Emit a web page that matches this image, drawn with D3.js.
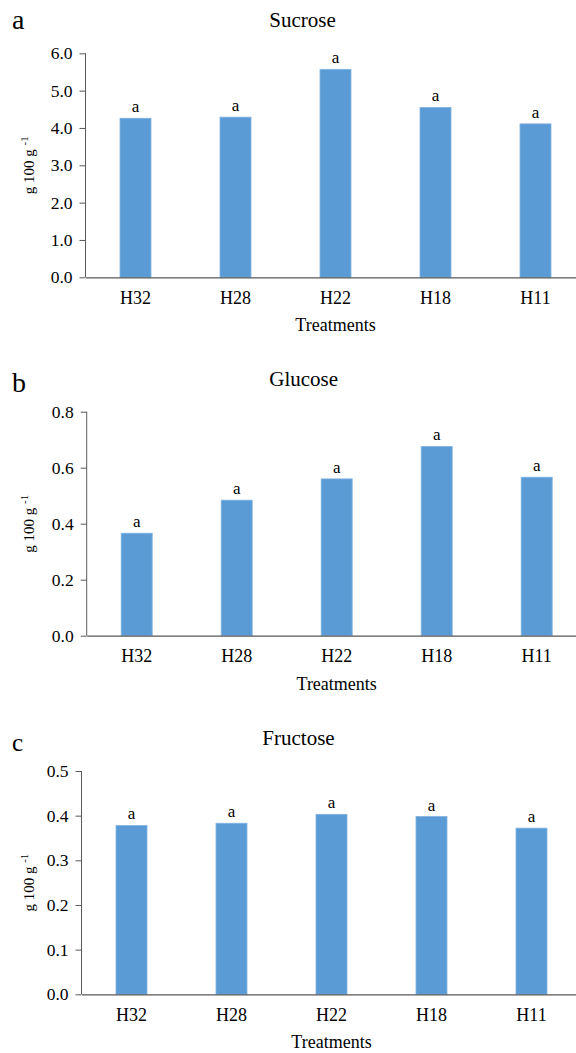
<!DOCTYPE html>
<html>
<head>
<meta charset="utf-8">
<script src="https://cdn.jsdelivr.net/npm/d3@7"></script>
<style>
  body { margin: 0; background: #fff; }
  svg text { font-family: "Liberation Serif", "Times New Roman", serif; fill: #000; }
</style>
</head>
<body>
<div id="chart"></div>
<script>
// data
const treatments = ["H32", "H28", "H22", "H18", "H11"];
const sucrose = [4.26, 4.29, 5.57, 4.55, 4.11];
const glucose = [0.366, 0.484, 0.560, 0.676, 0.566];
const fructose = [0.378, 0.383, 0.403, 0.398, 0.372];
const sigLetters = ["a", "a", "a", "a", "a"];
const sucroseTicks = [0, 1, 2, 3, 4, 5, 6];
const glucoseTicks = [0, 0.2, 0.4, 0.6, 0.8];
const fructoseTicks = [0, 0.1, 0.2, 0.3, 0.4, 0.5];

const canvWidth = 576, canvHeight = 1053;
const barColor = "#5b9bd5";
const axisColor = "#595959";
const serif = "Liberation Serif, Times New Roman, serif";

const svg = d3.select("#chart")
    .append("svg")
    .attr("width", canvWidth)
    .attr("height", canvHeight);

const panels = [
    {tag: "a", tagSize: 28, tagY: 29, title: "Sucrose", titleY: 27, values: sucrose, ticks: sucroseTicks,
        x0: 85.5, top: 53.3, bottom: 277.3},
    {tag: "b", tagSize: 28, tagY: 392, title: "Glucose", titleY: 386, values: glucose, ticks: glucoseTicks,
        x0: 86.7, top: 411.7, bottom: 635.7},
    {tag: "c", tagSize: 25, tagY: 751, title: "Fructose", titleY: 745, values: fructose, ticks: fructoseTicks,
        x0: 81.5, top: 771, bottom: 994.3}
];

panels.forEach(function (p) {
    const g = svg.append("g");

    const xScale = d3.scaleBand()
        .domain(treatments)
        .range([p.x0, p.x0 + 500])
        .paddingInner(0.69)
        .paddingOuter(0.345);

    const yScale = d3.scaleLinear()
        .domain(d3.extent(p.ticks))
        .range([p.bottom, p.top]);

    // y axis
    const yAxis = g.append("g")
        .attr("transform", `translate(${p.x0},0)`)
        .call(d3.axisLeft(yScale).tickValues(p.ticks).tickFormat(d3.format(".1f")).tickSize(6).tickPadding(7))
        .attr("font-family", serif)
        .attr("font-size", 17.5);
    yAxis.select(".domain").attr("stroke", axisColor).attr("d", `M0,${p.top}V${p.bottom}`);
    yAxis.selectAll(".tick line").attr("stroke", axisColor);
    yAxis.selectAll(".tick text").attr("fill", "#000");

    // bars
    g.selectAll("rect.bar")
        .data(p.values)
        .enter()
        .append("rect")
        .attr("class", "bar")
        .attr("x", (d, i) => xScale(treatments[i]))
        .attr("y", d => yScale(d))
        .attr("width", xScale.bandwidth())
        .attr("height", d => yScale(0) - yScale(d))
        .attr("fill", barColor)
        .attr("stroke", "#7fb2e0")
        .attr("stroke-width", 0.8);

    // significance letters
    g.selectAll("text.sig")
        .data(p.values)
        .enter()
        .append("text")
        .attr("class", "sig")
        .attr("x", (d, i) => xScale(treatments[i]) + xScale.bandwidth() / 2)
        .attr("y", d => yScale(d) - 6)
        .attr("text-anchor", "middle")
        .style("font-size", "17px")
        .text((d, i) => sigLetters[i]);

    // x axis
    const xAxis = g.append("g")
        .attr("transform", `translate(0,${p.bottom})`)
        .call(d3.axisBottom(xScale).tickSize(0).tickPadding(14))
        .attr("font-family", serif)
        .attr("font-size", 18);
    xAxis.select(".domain").attr("stroke", axisColor).attr("stroke-width", 1.3);
    xAxis.selectAll(".tick text").attr("fill", "#000");

    g.append("text")
        .attr("x", p.x0 + 250)
        .attr("y", p.bottom + 54)
        .attr("text-anchor", "middle")
        .style("font-size", "18px")
        .text("Treatments");

    // y label
    const yl = g.append("text")
        .attr("transform", `translate(34,${(p.top + p.bottom) / 2}) rotate(-90)`)
        .attr("text-anchor", "middle")
        .style("font-size", "15px");
    yl.append("tspan").text("g 100 g ");
    yl.append("tspan").attr("dy", -6).style("font-size", "11px").text("-1");

    // title and panel tag
    g.append("text")
        .attr("x", p.x0 + 217)
        .attr("y", p.titleY)
        .attr("text-anchor", "middle")
        .style("font-size", "21px")
        .text(p.title);

    g.append("text")
        .attr("x", 12)
        .attr("y", p.tagY)
        .style("font-size", p.tagSize + "px")
        .text(p.tag);
});
</script>
</body>
</html>
